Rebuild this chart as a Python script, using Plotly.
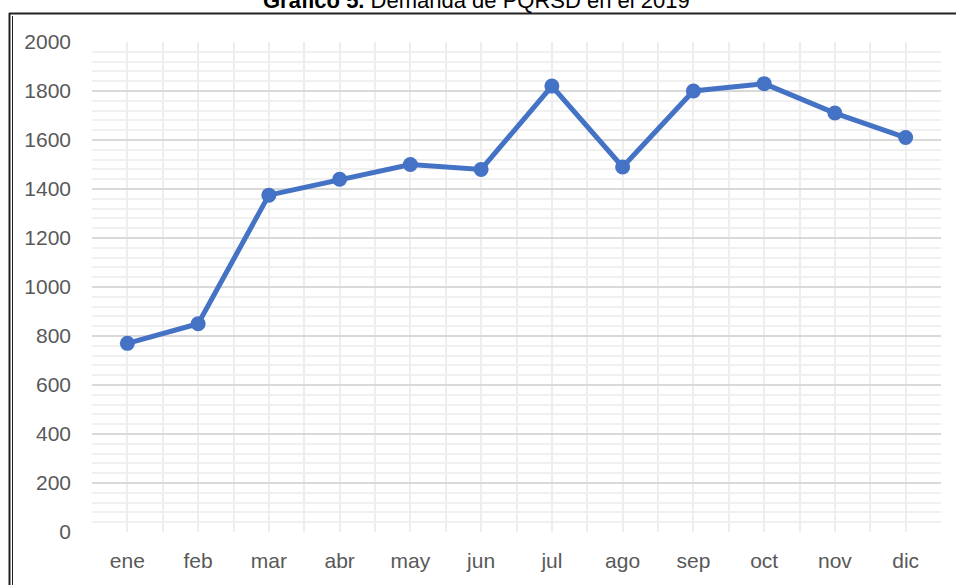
import plotly.graph_objects as go

# Demanda mensual de PQRSD, 2019
meses = ["ene", "feb", "mar", "abr", "may", "jun", "jul", "ago", "sep", "oct", "nov", "dic"]
demanda = [770, 850, 1375, 1440, 1500, 1480, 1820, 1490, 1800, 1830, 1710, 1610]
y_ticks = [0, 200, 400, 600, 800, 1000, 1200, 1400, 1600, 1800, 2000]

W, H = 956, 585
ML, MR, MT, MB = 92, 15, 42, 53
PW, PH = W - ML - MR, H - MT - MB


def px_x(px):
    return (px - ML) / PW


def px_y(py):
    return (H - MB - py) / PH


FONT = "Liberation Sans, Arial, sans-serif"

fig = go.Figure()
fig.add_trace(go.Scatter(
    x=list(range(len(meses))),
    y=demanda,
    mode="lines+markers",
    line=dict(color="#4472C4", width=5),
    marker=dict(color="#4472C4", size=15),
    showlegend=False,
))

fig.update_layout(
    width=W,
    height=H,
    margin=dict(l=ML, r=MR, t=MT, b=MB),
    paper_bgcolor="white",
    plot_bgcolor="white",
    font=dict(family=FONT, size=21, color="#595959"),
    xaxis=dict(
        range=[-0.5, 11.5],
        tickmode="array",
        tickvals=list(range(len(meses))),
        ticktext=meses,
        showgrid=True,
        gridcolor="#eeeeee",
        gridwidth=2,
        zeroline=False,
        showline=False,
        ticks="",
        ticklabelstandoff=14,
        minor=dict(tick0=-0.5, dtick=1, showgrid=True, gridcolor="#eeeeee", gridwidth=2),
        fixedrange=True,
    ),
    yaxis=dict(
        range=[0, 2000],
        tickmode="array",
        tickvals=y_ticks,
        showgrid=True,
        gridcolor="#d9d9d9",
        gridwidth=2,
        zeroline=False,
        showline=False,
        ticks="",
        ticklabelstandoff=20,
        minor=dict(dtick=40, tick0=0, showgrid=True, gridcolor="#f0f0f0", gridwidth=2),
        fixedrange=True,
    ),
)

# Marco del documento (línea superior y doble línea izquierda)
fig.add_shape(type="line", xref="paper", yref="paper",
              x0=px_x(9), x1=px_x(960), y0=px_y(13.5), y1=px_y(13.5),
              line=dict(color="#222222", width=2))
fig.add_shape(type="line", xref="paper", yref="paper",
              x0=px_x(9.5), x1=px_x(9.5), y0=px_y(13), y1=px_y(590),
              line=dict(color="#222222", width=2))
fig.add_shape(type="line", xref="paper", yref="paper",
              x0=px_x(12.5), x1=px_x(12.5), y0=px_y(16), y1=px_y(590),
              line=dict(color="#222222", width=1))

# título (recortado en el borde superior, como en el documento original)
fig.add_annotation(
    text="<b>Gráfico 5.</b> Demanda de PQRSD en el 2019",
    xref="paper", yref="paper",
    x=px_x(476), y=px_y(0),
    xanchor="center", yanchor="middle",
    showarrow=False,
    font=dict(family="Liberation Sans, Arial, sans-serif", size=22, color="black"),
)

# quitar el margen por defecto del body para que la figura quede en (0, 0)
fig.write_html(
    "out.html",
    config={"displayModeBar": False, "staticPlot": True},
    post_script="document.body.style.margin='0';",
)
